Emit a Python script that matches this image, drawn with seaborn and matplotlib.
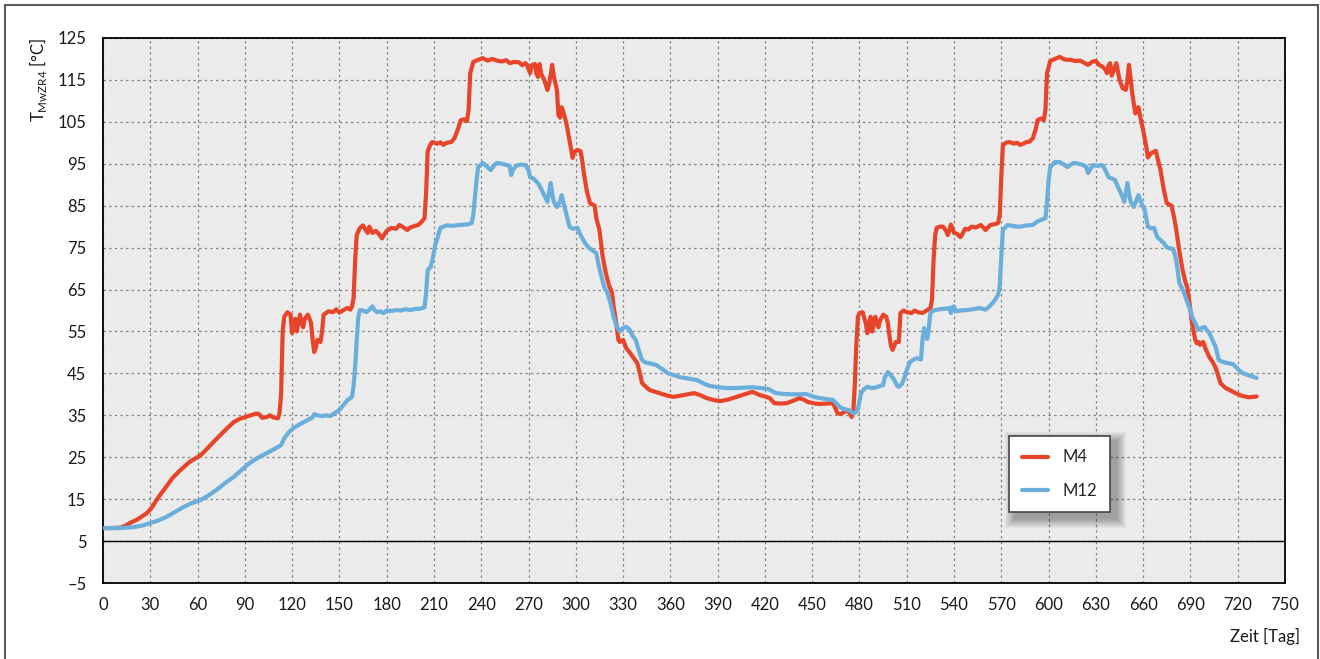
import numpy as np
import pandas as pd
import matplotlib
matplotlib.use("Agg")
import matplotlib.pyplot as plt
from matplotlib.patches import Rectangle
from matplotlib.lines import Line2D
from matplotlib.transforms import IdentityTransform
import seaborn as sns

# Temperature readings of two measuring points over two years
m4_points = [
    (0, 8.1), (5, 8.1), (11, 8.2), (14, 8.6), (17, 9.3), (22, 10.2), (28, 11.7), (31, 13), (34, 14.8),
    (37, 16.4), (40, 17.9), (44, 20), (49, 21.9), (55, 23.9), (62, 25.5), (66, 27), (70, 28.6),
    (75, 30.5), (79, 32), (83, 33.4), (87, 34.2), (92, 34.8), (97, 35.4), (99, 35.3), (101, 34.4),
    (104, 34.6), (106, 35), (108, 34.5), (111, 34.3), (112, 35.5), (113, 40), (114, 55), (115, 58.5),
    (117, 59.6), (119, 59), (120, 54.6), (121, 57), (122, 58), (123, 55), (124, 57.5), (125, 59),
    (126, 57), (127, 56), (128, 58), (130, 59), (132, 57), (133, 53), (134, 50.1), (135, 51), (136, 53),
    (138, 52.5), (139, 55), (140, 59), (143, 59.8), (146, 59.6), (148, 60.3), (150, 59.5), (153, 60.2),
    (155, 60.6), (157, 60.2), (158, 61), (159, 63), (160, 72), (161, 78), (163, 79.7), (165, 80.3),
    (167, 79), (168, 78.5), (169, 80), (171, 78.5), (173, 79), (175, 78.3), (177, 77.2), (178, 77.8),
    (180, 79), (183, 79.7), (186, 79.5), (188, 80.4), (190, 80), (193, 79.2), (195, 79.8), (198, 80.2),
    (200, 80.4), (202, 81.1), (204, 82), (205, 88), (206, 98), (208, 99.8), (209, 100.2), (212, 99.8),
    (214, 100.1), (216, 99.5), (218, 100), (221, 100.2), (223, 101.1), (225, 103), (227, 105.4),
    (229, 105.6), (231, 105.2), (232, 108), (233, 116.6), (235, 119.3), (238, 119.8), (241, 120.2),
    (244, 119.6), (247, 120), (250, 119.6), (253, 119.4), (256, 119.7), (258, 119), (261, 119.3),
    (264, 119.2), (266, 118.5), (268, 119), (269, 118.6), (271, 116.6), (272, 118.5), (274, 118.8),
    (275, 116.5), (276, 115.7), (277, 118.8), (278, 116.5), (280, 115), (282, 112.6), (283, 114),
    (284, 116), (285, 118.6), (286, 116), (288, 112.6), (289, 106.6), (290, 106), (291, 108.5),
    (292, 107.5), (294, 104.7), (296, 100.5), (298, 96.4), (299, 97.8), (301, 98.3), (303, 98),
    (304, 96), (305, 93), (307, 88.5), (309, 85.6), (312, 85), (313, 82), (315, 79.2), (317, 73),
    (319, 69), (321, 66), (323, 64.2), (324, 61), (326, 56.1), (327, 53), (328, 52.5), (330, 53),
    (332, 51), (334, 50.1), (337, 48.5), (339, 47.5), (341, 44.5), (342, 42.7), (345, 41.6), (347, 41),
    (353, 40.3), (358, 39.7), (362, 39.4), (368, 39.8), (375, 40.3), (379, 39.8), (383, 39.1),
    (388, 38.6), (392, 38.4), (397, 38.8), (402, 39.4), (407, 40), (412, 40.6), (417, 39.8), (420, 39.5),
    (423, 39.1), (426, 37.9), (430, 37.8), (434, 37.9), (438, 38.5), (442, 39.1), (445, 38.7),
    (447, 38.2), (452, 37.8), (455, 37.7), (459, 37.8), (463, 37.9), (465, 36.5), (466, 35.5),
    (468, 35.3), (470, 35.7), (472, 36.2), (473, 36), (475, 34.6), (476, 35.5), (477, 42), (478, 52),
    (479, 58.5), (480, 59.4), (482, 59.6), (484, 57), (485, 54.6), (486, 57), (487, 58.5), (488, 55),
    (489, 56.5), (490, 58.5), (492, 56), (493, 57.5), (495, 59), (497, 58.5), (498, 57), (499, 54),
    (500, 51.5), (501, 50.6), (502, 51.5), (503, 52.5), (505, 52.5), (506, 59.4), (508, 60), (510, 59.6),
    (513, 59.4), (515, 60), (517, 59.6), (520, 59.4), (523, 60.1), (525, 60.6), (526, 62.5), (527, 72),
    (528, 78), (529, 79.7), (531, 80), (533, 80), (535, 79), (536, 78), (537, 79), (538, 80.5),
    (540, 78.5), (542, 78.3), (544, 77.5), (545, 78), (547, 79.5), (549, 79.3), (551, 80), (554, 79.8),
    (557, 80.4), (560, 79.2), (563, 80.4), (566, 80.6), (568, 80.9), (569, 83), (570, 92), (571, 99.5),
    (573, 100), (575, 100.2), (578, 99.8), (580, 100), (582, 99.5), (584, 99.8), (586, 100.2),
    (588, 100.3), (590, 101.1), (592, 103.5), (593, 105.4), (595, 105.8), (597, 105.4), (598, 108),
    (599, 116.6), (601, 119.5), (604, 120), (607, 120.5), (610, 119.9), (612, 119.8), (614, 119.8),
    (617, 119.5), (620, 119.6), (622, 119.2), (625, 118.6), (628, 119.4), (630, 119.5), (632, 118.6),
    (634, 118.2), (636, 117.5), (637, 116.6), (638, 118.5), (639, 119), (640, 116), (641, 117),
    (643, 119), (644, 117), (645, 115), (647, 113), (649, 112.6), (650, 115), (651, 118.6), (652, 115.5),
    (653, 112), (655, 107), (657, 108.5), (658, 106.5), (660, 103), (662, 99), (663, 96.5), (665, 97.5),
    (668, 98.1), (669, 96.5), (671, 93.5), (673, 89), (675, 85.6), (678, 85), (680, 81.5), (681, 79.2),
    (683, 74), (685, 69.7), (687, 66.5), (688, 65.6), (690, 60), (691, 57), (693, 53), (694, 52.2),
    (695, 52.5), (696, 51.8), (698, 52.5), (700, 50.5), (702, 48.9), (704, 47.8), (706, 46.3),
    (708, 44), (709, 42.7), (712, 41.6), (715, 41), (719, 40.2), (723, 39.6), (727, 39.3), (730, 39.4),
    (732, 39.5),
]

m12_points = [
    (0, 8.1), (10, 8.1), (19, 8.3), (25, 8.7), (30, 9.3), (35, 9.9), (40, 10.7), (45, 11.8), (51, 13.1),
    (56, 14), (62, 14.8), (67, 15.9), (72, 17.2), (77, 18.7), (83, 20.3), (88, 22), (93, 23.6),
    (98, 24.8), (104, 26), (108, 26.8), (113, 27.9), (115, 29.5), (118, 31), (121, 32), (125, 32.9),
    (128, 33.5), (131, 34.1), (133, 34.5), (134, 35.3), (136, 35), (139, 34.8), (141, 35), (144, 34.8),
    (147, 35.5), (150, 36.3), (152, 37.2), (155, 38.6), (158, 39.4), (159, 42), (160, 46.5), (161, 53),
    (162, 58.5), (163, 60.1), (165, 60), (167, 59.6), (169, 60.2), (171, 61), (172, 60.2), (174, 59.6),
    (176, 59.8), (178, 59.4), (180, 60), (183, 59.9), (186, 60.1), (189, 60), (192, 60.3), (195, 60.1),
    (197, 60.3), (200, 60.4), (202, 60.5), (204, 60.8), (205, 64), (206, 69.6), (208, 70.5), (209, 72),
    (211, 76), (212, 77), (214, 79.7), (216, 80), (218, 80.3), (222, 80.2), (226, 80.4), (230, 80.5),
    (232, 80.6), (234, 80.9), (235, 83), (236, 87), (237, 91), (238, 94.2), (241, 95.2), (243, 94.5),
    (246, 93.5), (248, 94.5), (250, 95.2), (253, 95), (256, 94.7), (258, 94.5), (259, 92.3), (260, 93.5),
    (262, 94.5), (265, 94.8), (268, 94.7), (270, 93.5), (271, 91.8), (273, 91.5), (276, 90.4),
    (278, 89), (280, 87.5), (282, 85.9), (283, 88), (284, 90.4), (285, 88), (286, 86), (288, 84.7),
    (290, 86), (291, 87.5), (293, 84.5), (296, 80), (298, 79.5), (301, 79.7), (303, 78), (306, 76),
    (308, 75.1), (311, 74.2), (313, 73.7), (315, 70), (317, 67), (318, 65.6), (320, 64.2), (322, 61.8),
    (324, 58.4), (326, 56.2), (328, 55), (330, 55.8), (332, 56.1), (334, 55.5), (336, 54), (338, 53),
    (340, 50.5), (342, 48.2), (344, 47.6), (348, 47.3), (351, 47), (355, 46), (358, 45.1), (362, 44.6),
    (366, 44.1), (371, 43.8), (377, 43.4), (381, 42.6), (385, 42), (390, 41.7), (396, 41.5),
    (402, 41.5), (407, 41.6), (412, 41.7), (417, 41.5), (422, 41.3), (425, 40.7), (427, 40.3),
    (432, 40.1), (437, 40), (442, 40), (446, 40.1), (449, 39.7), (451, 39.4), (455, 39.1), (460, 38.8),
    (463, 38.7), (465, 38), (468, 36.8), (471, 36.4), (473, 36.3), (476, 35.5), (478, 35.8),
    (479, 36.5), (481, 40.3), (483, 41.3), (485, 41.8), (488, 41.5), (490, 41.6), (493, 42), (495, 42.2),
    (496, 44), (498, 45.3), (500, 44.5), (502, 43.5), (504, 42), (505, 41.8), (507, 42.5), (509, 44.5),
    (510, 45.8), (512, 47.7), (514, 48.2), (516, 48.6), (518, 48.5), (519, 48.3), (520, 53), (521, 55.8),
    (522, 54.5), (523, 53.2), (524, 56), (525, 59.4), (527, 60), (528, 60.1), (531, 60.3), (534, 60.4),
    (537, 60.6), (538, 59.4), (539, 60.8), (540, 61), (541, 59.8), (544, 60), (548, 60.1), (552, 60.3),
    (556, 60.6), (558, 60.4), (560, 60.2), (562, 60.8), (565, 62), (568, 63.7), (569, 66), (570, 73),
    (571, 79.2), (574, 80.4), (577, 80.2), (580, 80), (582, 80), (586, 80.3), (590, 80.4), (592, 81),
    (595, 81.6), (598, 82), (599, 86), (600, 91), (601, 94.2), (604, 95.4), (607, 95.4), (609, 95),
    (612, 94.2), (614, 94.8), (616, 95.2), (619, 95), (622, 94.7), (624, 94.2), (625, 92.8), (627, 94),
    (628, 94.7), (631, 94.5), (634, 94.7), (636, 93.5), (638, 91.8), (640, 91.5), (642, 91.2),
    (644, 89.5), (645, 88.7), (647, 87), (648, 85.9), (649, 88), (650, 90.4), (651, 88), (652, 86),
    (654, 84.7), (656, 86.5), (657, 87.5), (659, 85.5), (661, 84), (662, 82), (663, 80), (665, 79.6),
    (667, 79.7), (668, 78.5), (669, 77.5), (671, 76.8), (673, 76.1), (675, 75.1), (677, 74.8),
    (679, 74.7), (680, 73.5), (681, 72), (683, 66.6), (686, 64.2), (688, 62), (690, 60.1), (691, 58.5),
    (693, 57), (695, 55.4), (697, 55.8), (699, 56.1), (700, 55.5), (702, 54.6), (704, 53), (706, 51.3),
    (708, 48.2), (710, 47.8), (713, 47.5), (717, 47.2), (719, 46.5), (721, 45.7), (723, 45.1),
    (727, 44.5), (732, 43.9),
]

m4_day = [p[0] for p in m4_points]
m4_temp = [p[1] for p in m4_points]
m12_day = [p[0] for p in m12_points]
m12_temp = [p[1] for p in m12_points]

series_names = ["M4", "M12"]
series_colors = {"M4": "#E8442A", "M12": "#6AAEDC"}

x_ticks = list(range(0, 751, 30))
y_ticks = list(range(-5, 126, 10))

df = pd.concat([
    pd.DataFrame({"Tag": m4_day, "T": m4_temp, "Messpunkt": "M4"}),
    pd.DataFrame({"Tag": m12_day, "T": m12_temp, "Messpunkt": "M12"}),
], ignore_index=True)

sns.set_theme(style="white")
plt.rcParams["font.family"] = ["Lato", "DejaVu Sans"]

W, H = 1320, 659
FS = 12
fig = plt.figure(figsize=(W / 100, H / 100), dpi=100)
ax = fig.add_axes([103 / W, 1 - 583 / H, (1285 - 103) / W, (583 - 38) / H])
ax.set_facecolor("#EAEBEA")

sns.lineplot(data=df, x="Tag", y="T", hue="Messpunkt", hue_order=series_names,
             palette=series_colors, linewidth=3.0, estimator=None, sort=False,
             ax=ax, legend=False, zorder=3)

ax.set_xlim(0, 750)
ax.set_ylim(-5, 125)
ax.set_xticks(x_ticks)
ax.set_yticks(y_ticks)
ax.set_yticklabels([str(v).replace("-", "–") for v in y_ticks])
ax.tick_params(axis="both", length=0, labelsize=FS, colors="#1a1a1a")
ax.tick_params(axis="x", pad=10)
ax.tick_params(axis="y", pad=12)
ax.set_xlabel("")
ax.set_ylabel("")

ax.grid(True, color="#858585", linestyle=(0, (2, 2.5)), linewidth=0.9, zorder=1)
ax.set_axisbelow(True)
ax.axhline(5, color="black", linewidth=1.0, zorder=2)

for sp in ax.spines.values():
    sp.set_visible(True)
    sp.set_color("black")
    sp.set_linewidth(1.3)

# legend
handles = [Line2D([], [], color=series_colors[n], linewidth=3.0) for n in series_names]
leg = ax.legend(handles, series_names, loc="upper left",
                bbox_to_anchor=((1009 - 103) / 1182, (583 - 436) / 545),
                borderaxespad=0, frameon=True, fancybox=False, fontsize=FS,
                handlelength=1.55, handletextpad=0.85, borderpad=0.8, labelspacing=1.05,
                framealpha=1.0)
leg.get_frame().set_edgecolor("#444444")
leg.get_frame().set_linewidth(1.2)
leg.set_zorder(6)

# soft drop shadow behind the legend box
fig.canvas.draw()
bb = leg.get_window_extent()
for i in range(10):
    grow = 10 - i
    ax.add_patch(Rectangle((bb.x0 + 6 - grow, bb.y0 - 6 - grow),
                           bb.width + 2 * grow, bb.height + 2 * grow,
                           transform=IdentityTransform(), facecolor="black",
                           edgecolor="none", alpha=0.035, zorder=5, clip_on=False))

# axis titles
fig.text(38 / W, 1 - 38 / H, r"T$_{\mathregular{MwZR4}}$ [°C]", rotation=90,
         ha="center", va="top", fontsize=FS, color="#1a1a1a")
fig.text(1300 / W, 1 - 636 / H, "Zeit [Tag]", ha="right", va="center",
         fontsize=FS, color="#1a1a1a")

# outer frame
fig.add_artist(Rectangle((5 / W, -0.05), (1318 - 5) / W, 1 - 5 / H + 0.05,
                         transform=fig.transFigure, fill=False,
                         edgecolor="#5a5a5a", linewidth=1.5))

fig.savefig("out.png", dpi=100, facecolor="white")
